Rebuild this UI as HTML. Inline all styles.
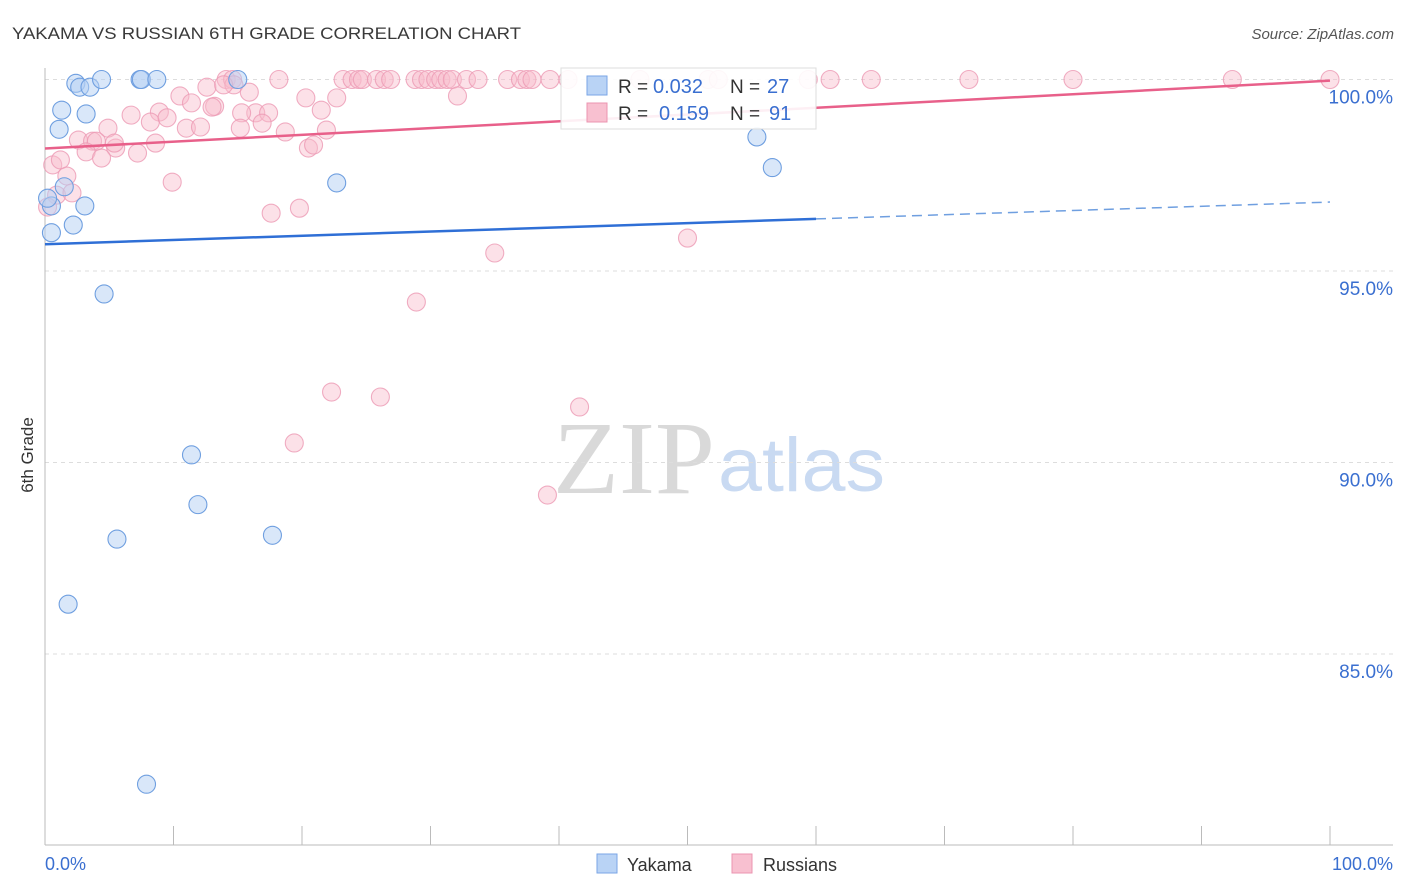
<!DOCTYPE html>
<html><head><meta charset="utf-8"><style>
body{margin:0;background:#fff;width:1406px;height:892px;overflow:hidden;font-family:"Liberation Sans",sans-serif}
svg{position:absolute;left:0;top:0}
</style></head><body>
<svg id="chart" width="1406" height="892" xmlns="http://www.w3.org/2000/svg">
<text x="12" y="39" font-size="17" fill="#3a3a3a" textLength="509" lengthAdjust="spacingAndGlyphs">YAKAMA VS RUSSIAN 6TH GRADE CORRELATION CHART</text>
<text x="1394" y="39" font-size="15" fill="#555" font-style="italic" text-anchor="end">Source: ZipAtlas.com</text>
<text transform="translate(33,455) rotate(-90)" font-size="17" fill="#333" text-anchor="middle">6th Grade</text>
<g>
<text x="553" y="493" font-size="104" font-family="Liberation Serif,serif" fill="#d9d9d9" textLength="162" lengthAdjust="spacingAndGlyphs">ZIP</text>
<text x="718" y="491" font-size="76" fill="#c9daf2" textLength="167" lengthAdjust="spacingAndGlyphs">atlas</text>
</g>
<g id="grid"></g><g id="axes"></g><g id="pts"></g><g id="trends"></g>
<g>
<rect x="561" y="68" width="255" height="61" fill="#fff" fill-opacity="0.9" stroke="#ddd"/>
<rect x="587" y="76" width="20" height="19" fill="#b9d3f5" stroke="#7aa6e6"/>
<rect x="587" y="103" width="20" height="19" fill="#f8c0d0" stroke="#eb94b0"/>
<text x="618" y="93" font-size="19" fill="#333">R =</text>
<text x="653" y="93" font-size="20" fill="#3a6fd0">0.032</text>
<text x="730" y="93" font-size="19" fill="#333">N =</text>
<text x="767" y="93" font-size="20" fill="#3a6fd0">27</text>
<text x="618" y="120" font-size="19" fill="#333">R =</text>
<text x="659" y="120" font-size="20" fill="#3a6fd0">0.159</text>
<text x="730" y="120" font-size="19" fill="#333">N =</text>
<text x="769" y="120" font-size="20" fill="#3a6fd0">91</text>
</g>
<g>
<rect x="597" y="854" width="20" height="19" fill="#b9d3f5" stroke="#7aa6e6"/>
<text x="627" y="871" font-size="18" fill="#333">Yakama</text>
<rect x="732" y="854" width="20" height="19" fill="#f8c0d0" stroke="#eb94b0"/>
<text x="763" y="871" font-size="18" fill="#333">Russians</text>
</g>
</svg>
<script>
const yTicks=[100,95,90,85];
const yTickLabels=["100.0%","95.0%","90.0%","85.0%"];
const yakX=[2.4,2.7,3.5,4.4,7.4,7.5,8.7,15.0,1.3,3.2,1.1,0.5,3.1,1.5,2.2,0.5,4.6,22.7,55.4,56.6,11.4,11.9,5.6,17.7,1.8,7.9,0.2];
const yakY=[99.9,99.8,99.8,100,100,100,100,100,99.2,99.1,98.7,96.7,96.7,97.2,96.2,96.0,94.4,97.3,98.5,97.7,90.2,88.9,88.0,88.1,86.3,81.6,96.9];
const rusX=[14.1,14.6,18.2,23.2,23.9,24.4,24.7,25.8,26.4,26.9,28.8,29.3,29.8,30.4,30.8,31.3,31.7,32.8,33.7,36.0,37.0,37.5,37.9,39.3,40.7,46.3,51.6,52.4,59.4,61.1,64.3,71.9,80.0,92.4,100,
10.5,12.6,13.2,14.7,15.9,13.9,8.9,11.4,13.0,16.4,17.4,15.3,4.9,6.7,8.2,9.5,11.0,12.1,15.2,16.9,18.7,20.3,21.5,21.9,22.7,32.1,2.6,3.7,4.0,5.5,7.2,8.6,3.2,4.4,5.4,0.6,1.2,1.7,0.9,0.2,2.1,9.9,17.6,19.8,20.5,20.9,35.0,50.0,28.9,22.3,26.1,41.6,19.4,39.1];
const rusY=[100,100,100,100,100,100,100,100,100,100,100,100,100,100,100,100,100,100,100,100,100,100,100,100,100,100,100,100,100,100,100,100,100,100,100,
99.57,99.8,99.3,99.86,99.67,99.86,99.15,99.39,99.28,99.13,99.13,99.13,98.73,99.07,98.89,99.0,98.73,98.76,98.73,98.86,98.63,99.52,99.2,98.68,99.52,99.57,98.42,98.39,98.39,98.21,98.08,98.34,98.11,97.95,98.34,97.77,97.9,97.48,96.98,96.67,97.04,97.32,96.51,96.64,98.21,98.29,95.47,95.86,94.19,91.84,91.71,91.45,90.51,89.15];
const yakTrend=[95.7,96.8];
const rusTrend=[98.2,99.97];
const NS="http://www.w3.org/2000/svg";
const X=v=>45+v*12.85, Y=v=>79.5+(100-v)*38.3;
function mk(t,a,p){const e=document.createElementNS(NS,t);for(const k in a)e.setAttribute(k,a[k]);p.appendChild(e);return e;}
const grid=document.getElementById('grid'),axes=document.getElementById('axes'),pts=document.getElementById('pts'),tr=document.getElementById('trends');
yTicks.forEach((t,i)=>{
const l=mk('line',{x1:45,x2:1393,y1:Y(t),y2:Y(t),stroke:'#ddd','stroke-dasharray':'4,4'},grid);


const tx=mk('text',{x:1393,y:Y(t)+24,'font-size':19,fill:'#3a6fd0','text-anchor':'end'},grid);
tx.textContent=yTickLabels[i];


});
const xa=mk('line',{x1:45,x2:1393,y1:845,y2:845,stroke:'#bbb'},axes);


const ya=mk('line',{x1:45,x2:45,y1:68,y2:845,stroke:'#bbb'},axes);


for(let i=0;i<=10;i++){const t=mk('line',{x1:X(i*10),x2:X(i*10),y1:826,y2:845,stroke:'#bbb'},axes);

}
const x0=mk('text',{x:45,y:870,'font-size':18,fill:'#3a6fd0'},axes);x0.textContent='0.0%';


const x1=mk('text',{x:1393,y:870,'font-size':18,fill:'#3a6fd0','text-anchor':'end'},axes);x1.textContent='100.0%';


rusX.forEach((v,i)=>{const c=mk('circle',{cx:X(v),cy:Y(rusY[i]),r:9,fill:'#f8bccd','fill-opacity':0.45,stroke:'#ec9ab4','stroke-width':1.1,'stroke-opacity':0.8},pts);

});
yakX.forEach((v,i)=>{const c=mk('circle',{cx:X(v),cy:Y(yakY[i]),r:9,fill:'#b4cff3','fill-opacity':0.5,stroke:'#6f9fe0','stroke-width':1.1},pts);

});
const yf=p=>yakTrend[0]+(yakTrend[1]-yakTrend[0])*p/100;
const l1=mk('line',{x1:X(0),y1:Y(yf(0)),x2:X(60),y2:Y(yf(60)),stroke:'#2f6fd6','stroke-width':2.5},tr);


const l2=mk('line',{x1:X(60),y1:Y(yf(60)),x2:X(100),y2:Y(yf(100)),stroke:'#6f9fe0','stroke-width':1.5,'stroke-dasharray':'10,6'},tr);


const l3=mk('line',{x1:X(0),y1:Y(rusTrend[0]),x2:X(100),y2:Y(rusTrend[1]),stroke:'#e8608a','stroke-width':2.5},tr);


</script>
</body></html>
